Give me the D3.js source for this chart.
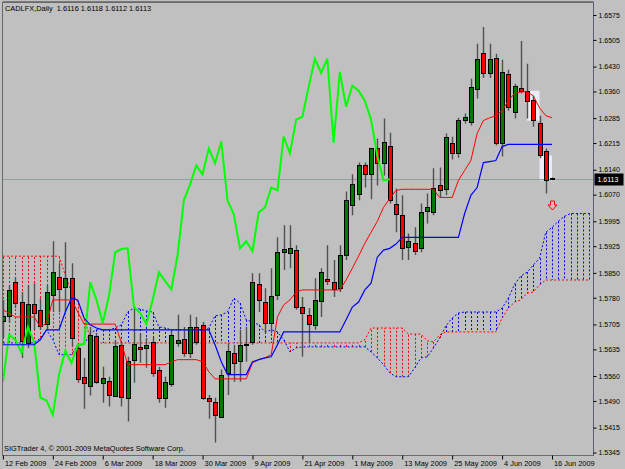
<!DOCTYPE html>
<html><head><meta charset="utf-8">
<script src="https://cdn.jsdelivr.net/npm/d3@7"></script>
<style>
html,body{margin:0;padding:0;background:#c0c0c0;}
svg{display:block;}
</style></head><body>
<svg id="c" width="625" height="469"></svg>
<script>
// ---------------- data ----------------
const titleText = "CADLFX,Daily  1.6116 1.6118 1.6112 1.6113";
const copyrightText = "SIGTrader 4, \u00A9 2001-2009 MetaQuotes Software Corp.";

const open = [1.5715,1.5729,1.5824,1.5768,1.5653,1.5762,1.5746,1.5706,1.5788,1.5838,
1.5810,1.5835,1.5639,1.5558,1.5533,1.5673,1.5541,1.5547,1.5505,1.5648,
1.5499,1.5606,1.5642,1.5639,1.5656,1.5578,1.5499,1.5538,1.5653,1.5664,
1.5625,1.5698,1.5704,1.5499,1.5488,1.5446,1.5569,1.5625,1.5603,1.5648,
1.5656,1.5818,1.5768,1.5709,1.5788,1.5908,1.5905,1.5914,1.5754,1.5732,
1.5704,1.5771,1.5832,1.5824,1.5807,1.5900,1.6040,1.6073,1.6152,1.6129,
1.6202,1.6160,1.6208,1.6045,1.6012,1.5922,1.5933,1.5919,1.6023,1.6020,
1.6096,1.6087,1.6214,1.6188,1.6281,1.6275,1.6368,1.6469,1.6412,1.6455,
1.6214,1.6410,1.6303,1.6370,1.6362,1.6337,1.6272,1.6194,1.6116];
const high = [1.5774,1.5816,1.5838,1.5796,1.5816,1.5821,1.5779,1.5816,1.5939,1.5877,
1.5936,1.5877,1.5653,1.5611,1.5698,1.5681,1.5586,1.5558,1.5662,1.5656,
1.5614,1.5754,1.5681,1.5667,1.5667,1.5586,1.5558,1.5690,1.5732,1.5698,
1.5732,1.5726,1.5712,1.5507,1.5499,1.5578,1.5653,1.5648,1.5690,1.5698,
1.5849,1.5849,1.5807,1.5863,1.5950,1.5984,1.5984,1.5928,1.5782,1.5751,
1.5835,1.5863,1.5928,1.5886,1.5928,1.6079,1.6127,1.6160,1.6160,1.6202,
1.6228,1.6284,1.6244,1.6087,1.6068,1.5961,1.5978,1.6045,1.6073,1.6144,
1.6146,1.6242,1.6233,1.6286,1.6298,1.6396,1.6494,1.6541,1.6494,1.6466,
1.6449,1.6421,1.6382,1.6502,1.6438,1.6348,1.6292,1.6200,1.6118];
const low = [1.5667,1.5709,1.5751,1.5611,1.5639,1.5690,1.5690,1.5690,1.5740,1.5740,
1.5740,1.5642,1.5541,1.5468,1.5505,1.5538,1.5485,1.5474,1.5502,1.5474,
1.5432,1.5541,1.5597,1.5583,1.5558,1.5485,1.5471,1.5530,1.5642,1.5614,
1.5611,1.5648,1.5493,1.5440,1.5373,1.5443,1.5507,1.5544,1.5544,1.5600,
1.5648,1.5740,1.5681,1.5681,1.5774,1.5858,1.5863,1.5746,1.5614,1.5653,
1.5690,1.5726,1.5816,1.5782,1.5796,1.5886,1.6012,1.6054,1.6090,1.6057,
1.6096,1.6124,1.6045,1.5964,1.5886,1.5886,1.5900,1.5908,1.5989,1.6012,
1.6062,1.6068,1.6169,1.6174,1.6270,1.6264,1.6340,1.6398,1.6398,1.6208,
1.6177,1.6306,1.6284,1.6354,1.6284,1.6261,1.6172,1.6073,1.6112];
const close = [1.5729,1.5802,1.5765,1.5659,1.5762,1.5737,1.5701,1.5796,1.5852,1.5804,
1.5835,1.5667,1.5552,1.5541,1.5676,1.5544,1.5555,1.5507,1.5645,1.5502,
1.5603,1.5650,1.5636,1.5648,1.5569,1.5499,1.5544,1.5676,1.5662,1.5625,
1.5698,1.5656,1.5499,1.5491,1.5451,1.5564,1.5631,1.5597,1.5648,1.5650,
1.5824,1.5774,1.5709,1.5785,1.5908,1.5917,1.5919,1.5754,1.5737,1.5706,
1.5774,1.5852,1.5827,1.5804,1.5900,1.6054,1.6099,1.6152,1.6127,1.6200,
1.6158,1.6219,1.6054,1.6015,1.5919,1.5939,1.5911,1.6020,1.6034,1.6090,
1.6082,1.6233,1.6186,1.6281,1.6289,1.6373,1.6452,1.6412,1.6452,1.6216,
1.6415,1.6317,1.6376,1.6362,1.6334,1.6281,1.6180,1.6110,1.6113];

// Tenkan-sen (red) and Kijun-sen (blue), one value per bar
const tenkan = [1.5746,1.5737,1.5726,1.5726,1.5726,1.5726,1.5698,1.5709,1.5774,1.5774,
1.5774,1.5774,1.5740,1.5706,1.5706,1.5706,1.5706,1.5706,1.5706,1.5653,
1.5592,1.5592,1.5592,1.5592,1.5592,1.5592,1.5592,1.5600,1.5606,1.5606,
1.5606,1.5606,1.5600,1.5572,1.5552,1.5552,1.5552,1.5552,1.5552,1.5552,
1.5597,1.5606,1.5611,1.5620,1.5726,1.5760,1.5774,1.5796,1.5802,1.5802,
1.5802,1.5802,1.5802,1.5802,1.5802,1.5830,1.5863,1.5897,1.5933,1.5964,
1.5995,1.6034,1.6059,1.6082,1.6085,1.6085,1.6085,1.6085,1.6085,1.6085,
1.6062,1.6062,1.6062,1.6110,1.6138,1.6166,1.6242,1.6278,1.6286,1.6292,
1.6306,1.6334,1.6354,1.6359,1.6359,1.6348,1.6314,1.6292,1.6286];
const kijun = [1.5648,1.5648,1.5648,1.5648,1.5648,1.5648,1.5662,1.5690,1.5690,1.5690,
1.5740,1.5779,1.5774,1.5723,1.5704,1.5695,1.5690,1.5690,1.5690,1.5690,
1.5690,1.5690,1.5690,1.5690,1.5690,1.5690,1.5690,1.5690,1.5690,1.5690,
1.5690,1.5690,1.5690,1.5690,1.5648,1.5600,1.5564,1.5564,1.5564,1.5564,
1.5600,1.5606,1.5611,1.5614,1.5648,1.5684,1.5684,1.5684,1.5684,1.5684,
1.5684,1.5684,1.5684,1.5684,1.5684,1.5718,1.5754,1.5768,1.5802,1.5821,
1.5894,1.5914,1.5919,1.5931,1.5950,1.5950,1.5950,1.5950,1.5950,1.5950,
1.5950,1.5950,1.5950,1.5950,1.6017,1.6068,1.6090,1.6160,1.6163,1.6166,
1.6205,1.6211,1.6211,1.6211,1.6211,1.6211,1.6211,1.6211,1.6211];

// Senkou spans (cloud), run 6 bars past the last candle
const spanA = [1.5653,1.5653,1.5653,1.5653,1.5653,1.5653,1.5667,1.5690,1.5662,1.5620,
1.5620,1.5620,1.5648,1.5648,1.5681,1.5690,1.5690,1.5690,1.5695,1.5704,
1.5740,1.5751,1.5748,1.5743,1.5740,1.5698,1.5695,1.5690,1.5690,1.5690,
1.5690,1.5690,1.5690,1.5695,1.5729,1.5732,1.5740,1.5779,1.5765,1.5718,
1.5712,1.5704,1.5684,1.5690,1.5684,1.5662,1.5628,1.5639,1.5642,1.5642,
1.5642,1.5642,1.5642,1.5642,1.5642,1.5642,1.5642,1.5642,1.5642,1.5628,
1.5611,1.5592,1.5569,1.5558,1.5558,1.5558,1.5583,1.5611,1.5614,1.5639,
1.5667,1.5701,1.5723,1.5737,1.5740,1.5740,1.5740,1.5740,1.5740,1.5740,
1.5751,1.5779,1.5818,1.5841,1.5852,1.5872,1.5891,1.5964,1.5978,1.5995,
1.6009,1.6017,1.6017,1.6017,1.6017];
const spanB = [1.5897,1.5897,1.5897,1.5897,1.5897,1.5897,1.5897,1.5897,1.5897,1.5897,
1.5844,1.5796,1.5768,1.5723,1.5667,1.5653,1.5653,1.5653,1.5653,1.5653,
1.5653,1.5653,1.5653,1.5653,1.5653,1.5653,1.5653,1.5653,1.5653,1.5653,
1.5653,1.5653,1.5653,1.5653,1.5653,1.5653,1.5653,1.5653,1.5653,1.5653,
1.5653,1.5653,1.5653,1.5653,1.5653,1.5653,1.5653,1.5653,1.5653,1.5653,
1.5653,1.5653,1.5653,1.5653,1.5653,1.5653,1.5653,1.5653,1.5662,1.5695,
1.5695,1.5695,1.5695,1.5695,1.5695,1.5678,1.5678,1.5678,1.5659,1.5656,
1.5676,1.5684,1.5684,1.5684,1.5684,1.5684,1.5684,1.5684,1.5684,1.5684,
1.5723,1.5751,1.5768,1.5774,1.5793,1.5796,1.5816,1.5830,1.5830,1.5830,
1.5830,1.5830,1.5830,1.5830,1.5830];

// Chikou span (green), plotted from the first bar onward
const chikou = [1.5544,1.5676,1.5662,1.5625,
1.5698,1.5656,1.5499,1.5491,1.5451,1.5564,1.5631,1.5597,1.5648,1.5650,
1.5824,1.5774,1.5709,1.5785,1.5908,1.5917,1.5919,1.5754,1.5737,1.5706,
1.5774,1.5852,1.5827,1.5804,1.5900,1.6054,1.6099,1.6152,1.6127,1.6200,
1.6158,1.6219,1.6054,1.6015,1.5919,1.5939,1.5911,1.6020,1.6034,1.6090,
1.6082,1.6233,1.6186,1.6281,1.6289,1.6373,1.6452,1.6412,1.6452,1.6216,
1.6415,1.6317,1.6376,1.6362,1.6334,1.6281,1.6180,1.6110,1.6113];

const dateTicks = [0,8,16,24,32,40,48,56,64,72,80,88];
const dateLabels = ["12 Feb 2009","24 Feb 2009","6 Mar 2009","18 Mar 2009","30 Mar 2009","9 Apr 2009",
"21 Apr 2009","1 May 2009","13 May 2009","25 May 2009","4 Jun 2009","16 Jun 2009"];
const priceTicks = [1.6575,1.6505,1.6430,1.6360,1.6285,1.6215,1.6140,1.6070,1.5995,
1.5925,1.5850,1.5780,1.5705,1.5635,1.5560,1.5490,1.5415,1.5345];
const lastPrice = 1.6113;
const boxes = [{from:84,to:86,hi:1.6362,lo:1.6278},{from:86,to:88,hi:1.6180,lo:1.6110}];
const arrowMark = {bar:88, price:1.6052};

// ---------------- drawing ----------------
const W=625,H=469;
const FONT='"Liberation Sans", Arial, sans-serif';
const L=2.5,T=2.5,R=593.5,B=455.5;
const svg=d3.select("#c");
const x=d3.scaleLinear().domain([0,88]).range([2.9,552.0]);
const y=d3.scaleLinear().domain([1.5345,1.6575]).range([452.5,15]);
const px=i=>Math.round(x(i))+0.5;

svg.append("rect").attr("width",W).attr("height",H).attr("fill","#c0c0c0");
svg.append("defs").append("clipPath").attr("id","clip")
  .append("rect").attr("x",L).attr("y",T).attr("width",R-L).attr("height",B-T);
const plot=svg.append("g").attr("clip-path","url(#clip)");

const RED="#ff0000", BLUE="#0000ff";

// cloud hatch
plot.append("g").selectAll("line").data(d3.range(spanA.length)).join("line")
  .attr("x1",px).attr("x2",px)
  .attr("y1",i=>y(spanA[i])).attr("y2",i=>y(spanB[i]))
  .attr("stroke",i=>spanB[i]>spanA[i]?RED:BLUE)
  .attr("stroke-width",1).attr("stroke-dasharray","2,2");
const lineGen=d3.line().x((d,i)=>x(i)).y(d=>y(d));
plot.append("path").attr("d",lineGen(spanB)).attr("fill","none")
  .attr("stroke",RED).attr("stroke-width",1).attr("stroke-dasharray","2,2");
plot.append("path").attr("d",lineGen(spanA)).attr("fill","none")
  .attr("stroke",BLUE).attr("stroke-width",1).attr("stroke-dasharray","2,2");

// highlight boxes
plot.append("g").selectAll("rect").data(boxes).join("rect")
  .attr("x",d=>x(d.from)).attr("width",d=>x(d.to)-x(d.from))
  .attr("y",d=>y(d.hi)).attr("height",d=>y(d.lo)-y(d.hi))
  .attr("fill","#ececf6");

// bid line
plot.append("line").attr("x1",L).attr("x2",R)
  .attr("y1",Math.round(y(lastPrice))+0.5).attr("y2",Math.round(y(lastPrice))+0.5)
  .attr("stroke","#8fa0a0").attr("stroke-width",1);

// candles
const bars=d3.range(close.length).map(i=>({i,o:open[i],h:high[i],l:low[i],c:close[i]}));
plot.append("g").selectAll("line").data(bars).join("line")
  .attr("x1",d=>px(d.i)).attr("x2",d=>px(d.i))
  .attr("y1",d=>y(d.h)).attr("y2",d=>y(d.l))
  .attr("stroke","#505050").attr("stroke-width",1.4);
plot.append("g").selectAll("rect").data(bars).join("rect")
  .attr("x",d=>Math.round(x(d.i))-1.5).attr("width",4)
  .attr("y",d=>Math.round(y(Math.max(d.o,d.c)))+0.5)
  .attr("height",d=>Math.max(1,Math.round(y(Math.min(d.o,d.c)))-Math.round(y(Math.max(d.o,d.c)))))
  .attr("fill",d=>d.c>=d.o?"#007a00":RED)
  .attr("stroke","#000").attr("stroke-width",1);

// chikou, tenkan, kijun
plot.append("path").attr("d",lineGen(chikou)).attr("fill","none")
  .attr("stroke","#00ff00").attr("stroke-width",2);
plot.append("path").attr("d",lineGen(tenkan)).attr("fill","none")
  .attr("stroke",RED).attr("stroke-width",1);
plot.append("path").attr("d",lineGen(kijun)).attr("fill","none")
  .attr("stroke",BLUE).attr("stroke-width",1.2);

// signal arrow
{
  const ax=px(arrowMark.bar), ay=y(arrowMark.price);
  plot.append("path")
    .attr("d",`M${ax-2},${ay} h4 v4 h2.5 l-4.5,5 l-4.5,-5 h2.5 z`)
    .attr("fill","#d8b8b8").attr("stroke",RED).attr("stroke-width",1);
}

// frame
svg.append("rect").attr("x",L).attr("y",T).attr("width",R-L).attr("height",B-T)
  .attr("fill","none").attr("stroke","#6a6a6a").attr("stroke-width",1);
svg.append("line").attr("x1",L).attr("x2",R).attr("y1",1.5).attr("y2",1.5).attr("stroke","#7a7a7a");
svg.append("line").attr("x1",R).attr("x2",R).attr("y1",T).attr("y2",B).attr("stroke","#5c5c74");

// axes
const yAxis=d3.axisRight(y).tickValues(priceTicks).tickSize(3).tickPadding(2).tickFormat(d=>d.toFixed(4));
const ya=svg.append("g").attr("transform",`translate(${R},0)`).call(yAxis)
  .attr("font-family",FONT).attr("font-size",7);
ya.select(".domain").remove();
ya.selectAll("line").attr("stroke","#000");
ya.selectAll("text").attr("fill","#000");

const xAxis=d3.axisBottom(x).tickValues(dateTicks).tickSize(4).tickFormat((d,i)=>dateLabels[i]);
const xa=svg.append("g").attr("transform",`translate(0,${B})`).call(xAxis)
  .attr("font-family",FONT).attr("font-size",7.4);
xa.select(".domain").remove();
xa.selectAll("line").attr("stroke","#000");
xa.selectAll("text").attr("text-anchor","start").attr("dx",1.5).attr("y",10.5).attr("dy",0).attr("fill","#000");

// price tag
{
  const ty=Math.round(y(lastPrice))+0.5;
  svg.append("rect").attr("x",R+1).attr("y",ty-6).attr("width",29).attr("height",12).attr("fill","#000");
  svg.append("text").attr("x",R+4).attr("y",ty+2.5).text(lastPrice.toFixed(4))
    .attr("fill","#fff").attr("font-family",FONT).attr("font-size",7);
}

// texts
svg.append("text").attr("x",5).attr("y",10.5).text(titleText)
  .attr("font-family",FONT).attr("font-size",7.4).attr("fill","#000").attr("xml:space","preserve")
  .style("white-space","pre");
svg.append("text").attr("x",4).attr("y",451).text(copyrightText)
  .attr("font-family",FONT).attr("font-size",7.4).attr("fill","#000");
</script>
</body></html>
